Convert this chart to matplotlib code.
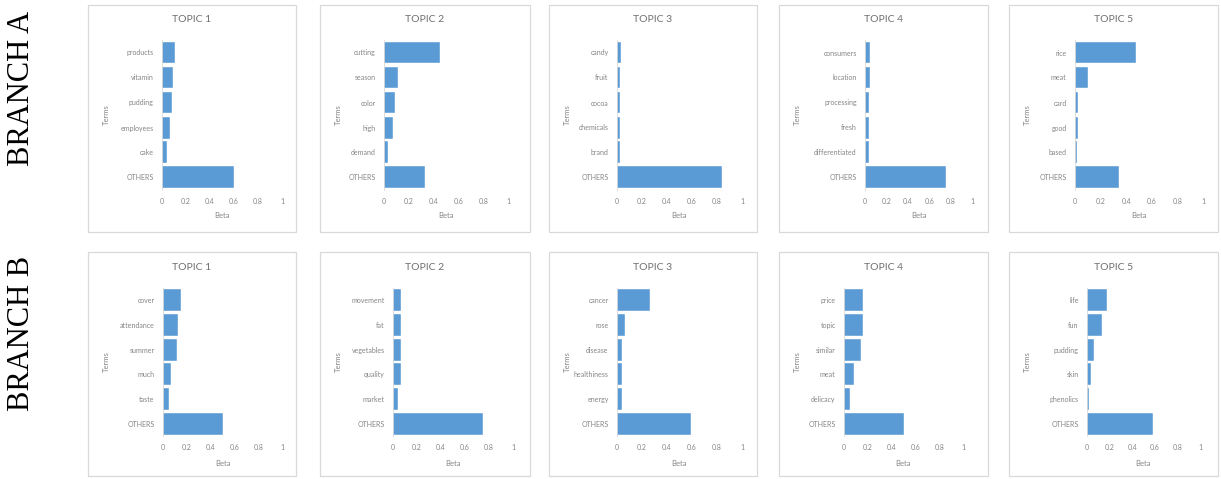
import matplotlib
matplotlib.use("Agg")
import matplotlib.pyplot as plt
from matplotlib.patches import Rectangle

# ---- data -------------------------------------------------------------
topic_titles = ["TOPIC 1", "TOPIC 2", "TOPIC 3", "TOPIC 4", "TOPIC 5"]
branch_names = ["BRANCH A", "BRANCH B"]
beta_ticks = [0, 0.2, 0.4, 0.6, 0.8, 1]
beta_tick_labels = ["0", "0.2", "0.4", "0.6", "0.8", "1"]

terms_a = [
    ["products", "vitamin", "pudding", "employees", "cake", "OTHERS"],
    ["cutting", "season", "color", "high", "demand", "OTHERS"],
    ["candy", "fruit", "cocoa", "chemicals", "brand", "OTHERS"],
    ["consumers", "location", "processing", "fresh", "differentiated", "OTHERS"],
    ["rice", "meat", "card", "good", "based", "OTHERS"],
]
beta_a = [
    [0.11, 0.095, 0.08, 0.07, 0.045, 0.60],
    [0.45, 0.11, 0.085, 0.07, 0.03, 0.33],
    [0.028, 0.027, 0.026, 0.026, 0.025, 0.84],
    [0.05, 0.05, 0.04, 0.038, 0.037, 0.76],
    [0.475, 0.105, 0.02, 0.02, 0.019, 0.34],
]

terms_b = [
    ["cover", "attendance", "summer", "much", "taste", "OTHERS"],
    ["movement", "fat", "vegetables", "quality", "market", "OTHERS"],
    ["cancer", "rose", "disease", "healthiness", "energy", "OTHERS"],
    ["price", "topic", "similar", "meat", "delicacy", "OTHERS"],
    ["life", "fun", "pudding", "skin", "phenolics", "OTHERS"],
]
beta_b = [
    [0.155, 0.127, 0.12, 0.065, 0.05, 0.50],
    [0.07, 0.07, 0.065, 0.065, 0.04, 0.75],
    [0.26, 0.06, 0.04, 0.04, 0.04, 0.59],
    [0.16, 0.16, 0.14, 0.08, 0.05, 0.50],
    [0.18, 0.13, 0.065, 0.035, 0.02, 0.58],
]

# ---- layout (pixels) --------------------------------------------------
W, H = 1221, 479
panel_x = [(88, 296), (320, 530), (549, 757), (779, 988), (1009, 1218)]
plot_x = [
    [(162, 282), (384, 508), (617, 742), (865, 972), (1075, 1203)],
    [(163, 282), (393, 513), (617, 742), (844, 963), (1087, 1200)],
]
row_panel_y = [(5, 232), (252, 476)]
row_plot_y = [(40, 190), (288, 436)]
row_title_y = [20, 268]
row_label_y = [216, 463]
branch_center_y = [88, 333]

BAR = "#5B9BD5"
TXT = "#858585"
FRAME = "#D9D9D9"
FONT = "Lato"

fig = plt.figure(figsize=(W / 100, H / 100), dpi=100)
fig.patch.set_facecolor("white")


def fx(px):
    return px / W


def fy(py):
    return 1 - py / H


for r, (terms_rows, beta_rows) in enumerate([(terms_a, beta_a), (terms_b, beta_b)]):
    py0, py1 = row_panel_y[r]
    ay0, ay1 = row_plot_y[r]
    fig.text(fx(22), fy(branch_center_y[r]), branch_names[r], rotation=90,
             ha="center", va="center", fontsize=22, family="Liberation Serif",
             color="black")
    for c in range(5):
        px0, px1 = panel_x[c]
        fig.add_artist(Rectangle((fx(px0), fy(py1)), fx(px1 - px0), (py1 - py0) / H,
                                 transform=fig.transFigure, fill=False,
                                 edgecolor=FRAME, linewidth=0.9))
        ax0, ax1 = plot_x[r][c]
        ax = fig.add_axes([fx(ax0), fy(ay1), fx(ax1 - ax0), (ay1 - ay0) / H])
        terms = terms_rows[c]
        betas = beta_rows[c]
        ypos = list(range(len(terms)))
        ax.barh(ypos, betas, height=0.88, color=BAR, edgecolor="white",
                linewidth=0.3)
        ax.set_ylim(len(terms) - 0.5, -0.5)
        ax.set_xlim(0, 1)
        ax.set_yticks(ypos)
        ax.set_yticklabels(terms, fontsize=5, color=TXT, family=FONT)
        ax.set_xticks(beta_ticks)
        ax.set_xticklabels(beta_tick_labels, fontsize=5, color=TXT, family=FONT)
        ax.tick_params(length=0, pad=6)
        for s in ["top", "right", "bottom"]:
            ax.spines[s].set_visible(False)
        ax.spines["left"].set_color(FRAME)
        ax.spines["left"].set_linewidth(0.6)
        ax.set_facecolor("none")
        # titles and axis names
        fig.text(fx((px0 + px1) / 2), fy(row_title_y[r]), topic_titles[c],
                 ha="center", va="center", fontsize=7.5, color="#6F6F6F",
                 family=FONT)
        fig.text(fx((ax0 + ax1) / 2), fy(row_label_y[r]), "Beta",
                 ha="center", va="center", fontsize=5.5, color=TXT, family=FONT)
        fig.text(fx(px0 + 18), fy((ay0 + ay1) / 2), "Terms", rotation=90,
                 ha="center", va="center", fontsize=5.5, color=TXT, family=FONT)

fig.savefig("out.png", dpi=100, facecolor="white")
